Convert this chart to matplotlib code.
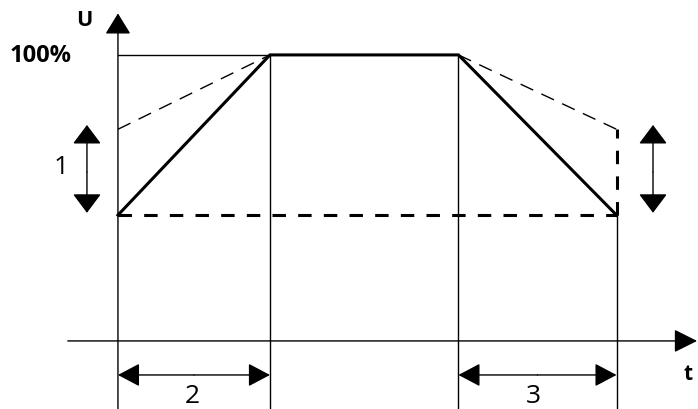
import matplotlib
matplotlib.use("Agg")
import matplotlib.pyplot as plt

# ---- data (time in arbitrary units, U in percent) ----
t_points = [0.0, 1.0, 2.24, 3.28]          # start, end ramp-up, start ramp-down, end
u_full = 100
u_low = 44                                   # reduced start / end voltage
u_alt = 74                                   # alternative (higher) start / end voltage
profile_t = [t_points[0], t_points[1], t_points[2], t_points[3]]
profile_u = [u_low, u_full, u_full, u_low]
alt_up_t = [t_points[0], t_points[1]]
alt_up_u = [u_alt, u_full]
alt_down_t = [t_points[2], t_points[3]]
alt_down_u = [u_full, u_alt]
labels_num = ["1", "2", "3"]
axis_labels = ["U", "t"]
level_label = "100%"

# ---- layout ----
XMIN, XMAX = -0.776, 3.816
YMIN, YMAX = -23.8, 119.2
fig = plt.figure(figsize=(6.98, 4.09), dpi=100)
ax = fig.add_axes([0, 0, 1, 1])
ax.set_xlim(XMIN, XMAX)
ax.set_ylim(YMIN, YMAX)
ax.axis("off")

K = "black"
thin = 1.0
thick = 2.2


def arrow(x0, y0, x1, y1, style="-|>", hl=0.65, hw=0.38, lw=thin):
    ax.annotate("", xy=(x1, y1), xytext=(x0, y0),
                arrowprops=dict(arrowstyle=f"{style},head_length={hl},head_width={hw}",
                                color=K, lw=lw, shrinkA=0, shrinkB=0,
                                mutation_scale=20))


# axes
arrow(t_points[0], YMIN, t_points[0], 114.5, hl=0.65, hw=0.4)
arrow(-0.33, 0, 3.81, 0, hl=0.72, hw=0.36)

# vertical guide lines
ax.plot([t_points[1], t_points[1]], [YMIN, u_full], color=K, lw=thin)
ax.plot([t_points[2], t_points[2]], [YMIN, u_full], color=K, lw=thin)
ax.plot([t_points[3], t_points[3]], [YMIN, u_low], color=K, lw=thin)

# 100% reference
ax.plot([t_points[0], t_points[1]], [u_full, u_full], color=K, lw=thin)

# thin dashed alternatives
ax.plot(alt_up_t, alt_up_u, color=K, lw=thin, dashes=(10, 6.5))
ax.plot(alt_down_t, alt_down_u, color=K, lw=thin, dashes=(10, 6.5))

# thick dashed baseline and right vertical
ax.plot([t_points[0], t_points[3]], [u_low, u_low], color=K, lw=thick, dashes=(4.4, 4.0))
ax.plot([t_points[3], t_points[3]], [u_low, u_alt], color=K, lw=thick, dashes=(4.4, 4.0))

# main profile
ax.plot(profile_t, profile_u, color=K, lw=thick, solid_joinstyle="miter")

# double arrows
arrow(-0.204, (u_low + u_alt) / 2, -0.204, u_alt + 1.5, hl=0.6, hw=0.45)
arrow(-0.204, (u_low + u_alt) / 2, -0.204, u_low + 0.8, hl=0.6, hw=0.45)
arrow(3.52, (u_low + u_alt) / 2, 3.52, u_alt + 1.5, hl=0.6, hw=0.45)
arrow(3.52, (u_low + u_alt) / 2, 3.52, u_low + 0.8, hl=0.6, hw=0.45)

y_dim = -11.9
arrow((t_points[0] + t_points[1]) / 2, y_dim, t_points[0], y_dim, hl=0.68, hw=0.36)
arrow((t_points[0] + t_points[1]) / 2, y_dim, t_points[1], y_dim, hl=0.68, hw=0.36)
arrow((t_points[2] + t_points[3]) / 2, y_dim, t_points[2], y_dim, hl=0.68, hw=0.36)
arrow((t_points[2] + t_points[3]) / 2, y_dim, t_points[3], y_dim, hl=0.68, hw=0.36)

# texts
fam = "Open Sans"
ax.text(-0.22, 112.1, axis_labels[0], ha="center", va="center", fontsize=15.5,
        fontweight="bold", family=fam)
ax.text(3.75, -11.9, axis_labels[1], ha="center", va="center", fontsize=15,
        fontweight="bold", family=fam)
ax.text(-0.507, 99.6, level_label, ha="center", va="center", fontsize=17,
        fontweight="bold", family=fam)
ax.text(-0.375, 60.5, labels_num[0], ha="center", va="center", fontsize=19, family=fam)
ax.text(0.49, -19.3, labels_num[1], ha="center", va="center", fontsize=19, family=fam)
ax.text(2.735, -19.3, labels_num[2], ha="center", va="center", fontsize=19, family=fam)

fig.savefig("out.png", dpi=100, facecolor="white")
